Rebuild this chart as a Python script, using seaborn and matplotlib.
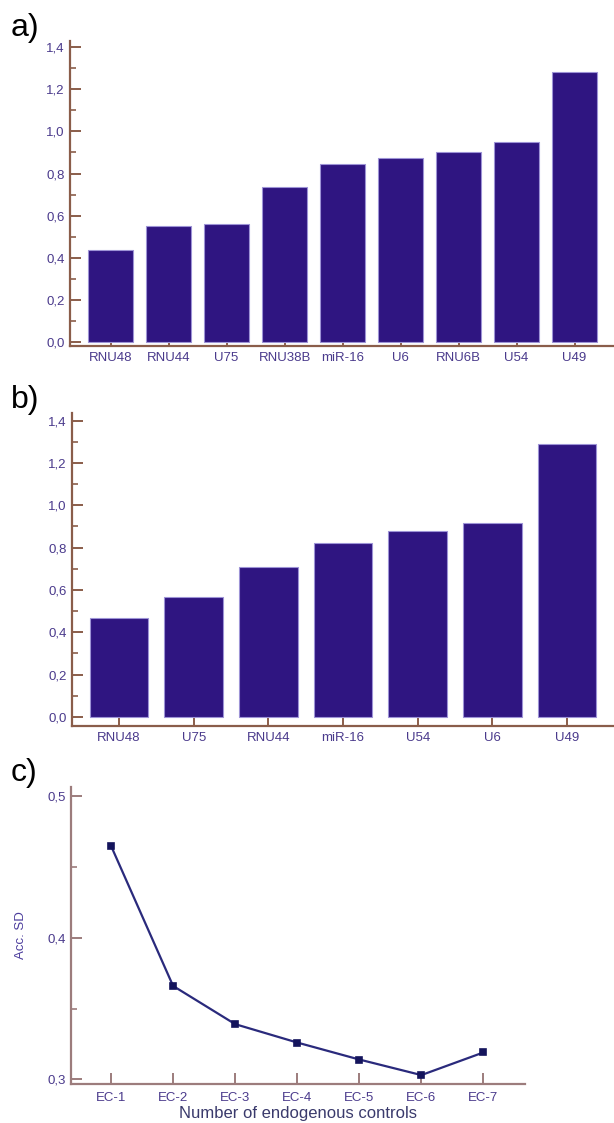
import matplotlib
matplotlib.use("Agg")
import matplotlib.pyplot as plt
from matplotlib.ticker import MultipleLocator, FuncFormatter
import seaborn as sns
import pandas as pd

# ---- data ----
genes_a = ["RNU48", "RNU44", "U75", "RNU38B", "miR-16", "U6", "RNU6B", "U54", "U49"]
values_a = [0.438, 0.552, 0.562, 0.736, 0.843, 0.875, 0.903, 0.951, 1.282]

genes_b = ["RNU48", "U75", "RNU44", "miR-16", "U54", "U6", "U49"]
values_b = [0.466, 0.566, 0.708, 0.821, 0.879, 0.915, 1.290]

controls_c = ["EC-1", "EC-2", "EC-3", "EC-4", "EC-5", "EC-6", "EC-7"]
acc_sd_c = [0.465, 0.366, 0.339, 0.326, 0.314, 0.303, 0.319]

panel_letters = ["a)", "b)", "c)"]

# ---- style ----
sns.set_style("white")
plt.rcParams["font.family"] = ["Liberation Sans", "DejaVu Sans"]

BAR = "#2f1581"
BAR_EDGE = "#9d93d6"
SPINE = "#8a5d4a"
SPINE_C = "#9c7c7c"
TICKLAB = "#4a3a8c"
LINE = "#2a2a7c"

W, H = 614, 1123
fig = plt.figure(figsize=(W / 100, H / 100), dpi=100)

def comma(v, pos):
    return f"{v:.1f}".replace(".", ",")

def style_axis(ax, spine_col):
    for s in ["top", "right"]:
        ax.spines[s].set_visible(False)
    for s in ["left", "bottom"]:
        ax.spines[s].set_color(spine_col)
        ax.spines[s].set_linewidth(1.6)
    ax.tick_params(axis="x", which="major", bottom=True, top=False)
    ax.tick_params(axis="y", which="both", left=True, right=False)
    ax.tick_params(axis="both", which="major", direction="in", length=8, width=1.4,
                   color=spine_col, labelcolor=TICKLAB, labelsize=9.5)
    ax.tick_params(axis="y", which="minor", direction="in", length=4.5, width=1.2,
                   color=spine_col)
    ax.tick_params(axis="y", pad=4)
    ax.tick_params(axis="x", pad=4)
    ax.yaxis.set_major_formatter(FuncFormatter(comma))
    ax.set_xlabel("")
    ax.set_ylabel("")

# ---- panel a ----
ax_a = fig.add_axes([70 / W, 1 - 346 / H, (W - 70) / W, 305 / H])
df_a = pd.DataFrame({"gene": genes_a, "value": values_a})
sns.barplot(data=df_a, x="gene", y="value", color=BAR, saturation=1, width=0.776,
            edgecolor=BAR_EDGE, linewidth=0.8, ax=ax_a)
ax_a.set_xlim(-0.70, 8.68)
ax_a.set_ylim(-0.02, 1.43)
ax_a.yaxis.set_major_locator(MultipleLocator(0.2))
ax_a.yaxis.set_minor_locator(MultipleLocator(0.1))
style_axis(ax_a, SPINE)

# ---- panel b ----
ax_b = fig.add_axes([72 / W, 1 - 726 / H, (W - 72) / W, 313 / H])
df_b = pd.DataFrame({"gene": genes_b, "value": values_b})
sns.barplot(data=df_b, x="gene", y="value", color=BAR, saturation=1, width=0.785,
            edgecolor=BAR_EDGE, linewidth=0.8, ax=ax_b)
ax_b.set_xlim(-0.63, 6.63)
ax_b.set_ylim(-0.0425, 1.436)
ax_b.yaxis.set_major_locator(MultipleLocator(0.2))
ax_b.yaxis.set_minor_locator(MultipleLocator(0.1))
style_axis(ax_b, SPINE)

# ---- panel c ----
ax_c = fig.add_axes([71 / W, 1 - 1084 / H, (525 - 71) / W, 297 / H])
df_c = pd.DataFrame({"control": controls_c, "sd": acc_sd_c})
sns.pointplot(data=df_c, x="control", y="sd", color=LINE, markers="s",
              markersize=5, linewidth=1.6, ax=ax_c)
for ln in ax_c.lines:
    ln.set_markerfacecolor("#14145c")
    ln.set_markeredgecolor("#14145c")
ax_c.set_xlim(-0.645, 6.67)
ax_c.set_ylim(0.2967, 0.5066)
ax_c.yaxis.set_major_locator(MultipleLocator(0.1))
ax_c.yaxis.set_minor_locator(MultipleLocator(0.05))
style_axis(ax_c, SPINE_C)
ax_c.tick_params(axis="x", pad=6)
ax_c.set_ylabel("Acc. SD", color="#4b3c9c", fontsize=9.5)
ax_c.yaxis.set_label_coords(-0.097, 0.5)
ax_c.set_xlabel("Number of endogenous controls", color="#3a3a6c", fontsize=12, labelpad=1)

# ---- panel letters ----
for letter, ypx in zip(panel_letters, [28, 400, 773]):
    fig.text(11 / W, 1 - ypx / H, letter, fontsize=23, color="black",
             ha="left", va="center")

fig.savefig("out.png", dpi=100)
